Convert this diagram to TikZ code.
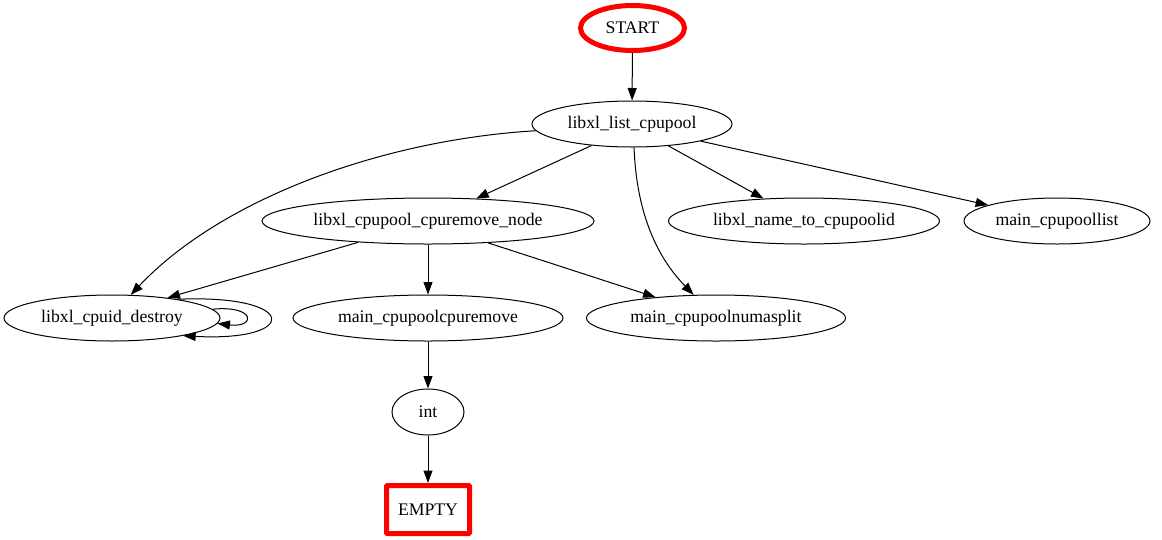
\documentclass[tikz,border=0pt]{standalone}
\usepackage{fontspec}
\setmainfont{Liberation Serif}
\usepackage{tikz}
\usetikzlibrary{arrows.meta,shapes.geometric}
\tikzstyle{fn}=[ellipse,draw,line width=1pt,inner sep=0pt,minimum height=46pt,font=\fontsize{17.7}{20}\selectfont]
\tikzstyle{startnode}=[fn,draw=red,line width=5pt,minimum width=104pt,minimum height=45pt]
\tikzstyle{endnode}=[rectangle,draw=red,line width=5pt,rounded corners=1pt,inner sep=0pt,minimum width=83pt,minimum height=48pt,font=\fontsize{17.7}{20}\selectfont]
\tikzstyle{edge}=[-{Triangle[length=12.5pt,width=9pt]},line width=1pt]

\begin{document}
\begin{tikzpicture}[x=1pt,y=-1pt]
  \useasboundingbox (0,0) rectangle (1162,539);
  % nodes
  \node[startnode] (start) at (632.5,28) {START};
  \node[fn,minimum width=200pt] (list) at (632,124) {libxl\_list\_cpupool};
  \node[fn,minimum width=332pt] (rmnode) at (428,221) {libxl\_cpupool\_cpuremove\_node};
  \node[fn,minimum width=271pt] (nametoid) at (804,221) {libxl\_name\_to\_cpupoolid};
  \node[fn,minimum width=186pt] (poollist) at (1057,221) {main\_cpupoollist};
  \node[fn,minimum width=216pt] (destroy) at (112,318) {libxl\_cpuid\_destroy};
  \node[fn,minimum width=270pt] (cpuremove) at (428,318) {main\_cpupoolcpuremove};
  \node[fn,minimum width=259pt] (numasplit) at (716,318) {main\_cpupoolnumasplit};
  \node[fn,minimum width=72pt] (int) at (428,412) {int};
  \node[endnode] (empty) at (428,509.5) {EMPTY};
  % edges
  \draw[edge] (start) -- (list);
  \draw[edge] (list.208) -- (rmnode.25);
  \draw[edge] (list.184) .. controls (380,140) and (220,200) .. (destroy.51);
  \draw[edge] (list.275) .. controls (636,200) and (650,250) .. (numasplit.134);
  \draw[edge] (list.329) -- (nametoid.151);
  \draw[edge] (list.346) -- (poollist.167);
  \draw[edge] (rmnode.197) -- (destroy.20);
  \draw[edge] (rmnode) -- (cpuremove);
  \draw[edge] (rmnode.340) -- (numasplit.161);
  % self loops
  \draw[edge] (destroy.16) .. controls (300,294) and (300,342) .. (destroy.-14);
  \draw[edge] (destroy.5) .. controls (256,305) and (256,328) .. (destroy.-3);
  \draw[edge] (cpuremove) -- (int);
  \draw[edge] (int) -- (empty);
\end{tikzpicture}
\end{document}
